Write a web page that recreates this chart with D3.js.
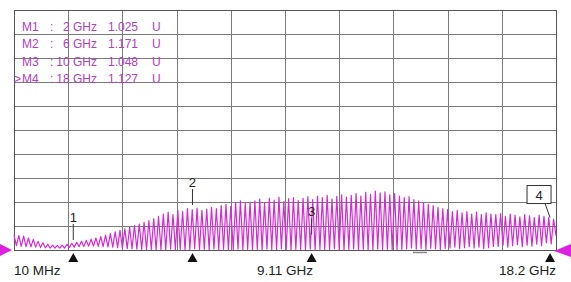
<!DOCTYPE html>
<html>
<head>
<meta charset="utf-8">
<script src="https://cdn.jsdelivr.net/npm/d3@7/dist/d3.min.js"></script>
<style>
  body { margin: 0; background: #fff; }
  svg { display: block; font-family: "Liberation Sans", Arial, sans-serif; }
</style>
</head>
<body>
<div id="layout"></div>
<script>
// sweep settings (GHz) and SWR scale (U)
var fStart = 0.01, fStop = 18.2;
var refValue = 1.0, perDiv = 0.1, divisions = 10;

// trace: one peak and one trough per ripple cycle
var peaks = [
  1.062, 1.060, 1.058, 1.050, 1.044, 1.036, 1.030, 1.024, 1.020, 1.019,
  1.020, 1.024, 1.028, 1.032, 1.036, 1.040, 1.045, 1.050, 1.056, 1.062,
  1.068, 1.076, 1.082, 1.088, 1.095, 1.102, 1.108, 1.115, 1.122, 1.130,
  1.140, 1.150, 1.158, 1.148, 1.165, 1.160, 1.172, 1.168, 1.175, 1.165,
  1.170, 1.178, 1.172, 1.185, 1.190, 1.182, 1.198, 1.205, 1.195, 1.200,
  1.205, 1.212, 1.198, 1.215, 1.208, 1.220, 1.202, 1.214, 1.218, 1.206,
  1.215, 1.222, 1.210, 1.225, 1.218, 1.228, 1.212, 1.224, 1.230, 1.220,
  1.228, 1.235, 1.225, 1.240, 1.232, 1.245, 1.238, 1.242, 1.230, 1.235,
  1.225, 1.218, 1.222, 1.210, 1.205, 1.198, 1.190, 1.185, 1.178, 1.172,
  1.168, 1.160, 1.165, 1.155, 1.160, 1.150, 1.158, 1.148, 1.155, 1.150,
  1.148, 1.152, 1.140, 1.150, 1.145, 1.138, 1.148, 1.142, 1.135, 1.145,
  1.140, 1.135, 1.128
];
var troughs = [
  1.018, 1.015, 1.014, 1.013, 1.012, 1.010, 1.009, 1.008, 1.008, 1.008,
  1.008, 1.010, 1.012, 1.014, 1.015, 1.016, 1.016, 1.015, 1.014, 1.013,
  1.012, 1.010, 1.008, 1.006, 1.005, 1.004, 1.003, 1.002, 1.002, 1.001,
  1.002, 1.000, 1.004, 1.001, 1.003, 1.000, 1.002, 1.005, 1.001, 1.003,
  1.002, 1.004, 1.001, 1.003, 1.000, 1.002, 1.004, 1.001, 1.003, 1.000,
  1.003, 1.000, 1.004, 1.002, 1.001, 1.005, 1.002, 1.000, 1.003, 1.001,
  1.002, 1.004, 1.000, 1.003, 1.001, 1.002, 1.005, 1.001, 1.000, 1.003,
  1.004, 1.001, 1.003, 1.000, 1.002, 1.004, 1.001, 1.003, 1.002, 1.000,
  1.003, 1.005, 1.008, 1.004, 1.006, 1.002, 1.007, 1.005, 1.003, 1.006,
  1.008, 1.012, 1.006, 1.010, 1.014, 1.008, 1.012, 1.006, 1.010, 1.015,
  1.015, 1.020, 1.012, 1.018, 1.022, 1.014, 1.020, 1.016, 1.024, 1.018,
  1.030, 1.025, 1.060
];

// markers
var markerNames = ["M1", "M2", "M3", "M4"];
var markerFreqs = [2, 6, 10, 18];
var markerValues = [1.025, 1.171, 1.048, 1.127];
var activeMarker = 3;

// bottom labels
var freqLabels = ["10 MHz", "9.11 GHz", "18.2 GHz"];
var dashFreqs = [13.4, 13.87];

var margin = {top: 10, right: 15, bottom: 32, left: 14},
    width = 571 - margin.left - margin.right,
    height = 282 - margin.top - margin.bottom;

var svg = d3.select("#layout")
  .append("svg")
    .attr("width", 571)
    .attr("height", 282)
  .append("g")
    .attr("transform", "translate(" + margin.left + "," + margin.top + ")");

var x = d3.scaleLinear().domain([fStart, fStop]).range([0, width]);
var y = d3.scaleLinear().domain([refValue, refValue + perDiv * divisions]).range([height, 0]);

// grid
var xGrid = d3.range(divisions + 1).map(function(i) { return fStart + i * (fStop - fStart) / divisions; });
var yGrid = d3.range(divisions + 1).map(function(i) { return refValue + i * perDiv; });

svg.append("g")
  .attr("class", "grid")
  .attr("transform", "translate(0," + height + ")")
  .call(d3.axisBottom(x).tickValues(xGrid).tickSize(-height).tickFormat(""))
  .call(function(g) { g.select(".domain").remove(); });
svg.append("g")
  .attr("class", "grid")
  .call(d3.axisLeft(y).tickValues(yGrid).tickSize(-width).tickFormat(""))
  .call(function(g) { g.select(".domain").remove(); });
svg.selectAll(".grid line").attr("stroke", "#7a7a7a").attr("stroke-width", 1).attr("shape-rendering", "crispEdges");

svg.append("rect")
  .attr("width", width).attr("height", height)
  .attr("fill", "none").attr("stroke", "#555").attr("shape-rendering", "crispEdges");

// trace: peak, trough, peak, trough ...
var trace = [];
peaks.forEach(function(p, i) { trace.push(p); trace.push(troughs[i]); });
var n = trace.length;
var sweep = trace.map(function(v, k) { return {f: fStart + k * (fStop - fStart) / (n - 1), v: v}; });

svg.append("path")
  .datum(sweep)
  .attr("fill", "none")
  .attr("stroke", "#d42ad4")
  .attr("stroke-width", 1.2)
  .attr("stroke-linejoin", "round")
  .attr("d", d3.line()
    .x(function(d) { return x(d.f); })
    .y(function(d) { return y(d.v); }));

// reference level arrows
svg.append("path")
  .attr("d", "M" + (-14) + "," + (y(refValue) - 6) + "L" + (-2) + "," + y(refValue) + "L" + (-14) + "," + (y(refValue) + 6) + "Z")
  .attr("fill", "#e020e0");
svg.append("path")
  .attr("d", "M" + (width + 15) + "," + (y(refValue) - 6) + "L" + (width - 2) + "," + (y(refValue) + 1) + "L" + (width + 15) + "," + (y(refValue) + 7) + "Z")
  .attr("fill", "#e020e0");

// small cursor dash under axis
svg.append("line")
  .attr("x1", x(dashFreqs[0])).attr("x2", x(dashFreqs[1]))
  .attr("y1", height + 2.5).attr("y2", height + 2.5)
  .attr("stroke", "#888").attr("stroke-width", 1.5);

// markers
markerFreqs.forEach(function(f, i) {
  var mx = x(f), my = y(markerValues[i]);
  svg.append("path")
    .attr("d", "M" + mx + "," + (height + 3) + "L" + (mx + 5) + "," + (height + 12) + "L" + (mx - 5) + "," + (height + 12) + "Z")
    .attr("fill", "#111");
  if (i == activeMarker) {
    svg.append("rect")
      .attr("x", mx - 23).attr("y", my - 34).attr("width", 24).attr("height", 18)
      .attr("fill", "#fff").attr("stroke", "#333");
    svg.append("text")
      .attr("x", mx - 11).attr("y", my - 20)
      .attr("text-anchor", "middle").attr("font-size", "13px").attr("fill", "#222")
      .text(i + 1);
    svg.append("line")
      .attr("x1", mx - 5).attr("y1", my - 16).attr("x2", mx).attr("y2", my - 2)
      .attr("stroke", "#333");
  } else {
    svg.append("line")
      .attr("x1", mx).attr("x2", mx).attr("y1", my - 20).attr("y2", my - 4)
      .attr("stroke", "#333");
    svg.append("text")
      .attr("x", mx).attr("y", my - 22)
      .attr("text-anchor", "middle").attr("font-size", "13px").attr("fill", "#222")
      .text(i + 1);
  }
});

// marker readout, top left
var readout = svg.append("g").attr("fill", "#b040c0").attr("font-size", "12px");
markerNames.forEach(function(name, i) {
  var by = 20.5 + i * 17.5;
  if (i == activeMarker) readout.append("text").attr("x", 0).attr("y", by).text(">");
  readout.append("text").attr("x", 8).attr("y", by).text(name);
  readout.append("text").attr("x", 36).attr("y", by).text(":");
  readout.append("text").attr("x", 83).attr("y", by).attr("text-anchor", "end").text(markerFreqs[i] + " GHz");
  readout.append("text").attr("x", 94).attr("y", by).text(markerValues[i].toFixed(3));
  readout.append("text").attr("x", 138).attr("y", by).text("U");
});

// frequency labels
svg.append("text").attr("x", 0).attr("y", height + 25).attr("font-size", "13.5px").attr("fill", "#222")
  .text(freqLabels[0]);
svg.append("text").attr("x", width / 2).attr("y", height + 25).attr("font-size", "13.5px").attr("fill", "#222")
  .attr("text-anchor", "middle").text(freqLabels[1]);
svg.append("text").attr("x", width).attr("y", height + 25).attr("font-size", "13.5px").attr("fill", "#222")
  .attr("text-anchor", "end").text(freqLabels[2]);
</script>
</body>
</html>
